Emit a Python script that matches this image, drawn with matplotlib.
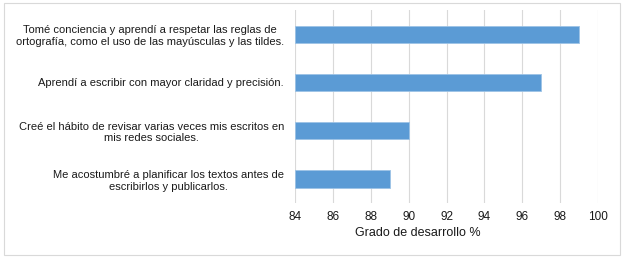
import matplotlib
matplotlib.use("Agg")
import matplotlib.pyplot as plt
from matplotlib.patches import Rectangle

plt.rcParams['font.family'] = ['Liberation Sans', 'DejaVu Sans']

categories = [
    "Tomé conciencia y aprendí a respetar las reglas de\nortografía, como el uso de las mayúsculas y las tildes.",
    "Aprendí a escribir con mayor claridad y precisión.",
    "Creé el hábito de revisar varias veces mis escritos en\nmis redes sociales.",
    "Me acostumbré a planificar los textos antes de\nescribirlos y publicarlos.",
]
values = [99, 97, 90, 89]
xticks = [84, 86, 88, 90, 92, 94, 96, 98, 100]

fig = plt.figure(figsize=(6.24, 2.59), dpi=100)
fig.patches.append(Rectangle((0.006, 0.015), 0.988, 0.975, transform=fig.transFigure,
                             fill=False, edgecolor='#d9d9d9', lw=0.8))
ax = fig.add_axes([0.4728, 0.216, 0.4856, 0.745])

pos = list(range(len(categories)))
ax.barh(pos, [v - 84 for v in values], left=84, height=0.36,
        color='#5b9bd5', edgecolor='#9dc3e6', lw=0.6, zorder=3)
ax.set_ylim(3.5, -0.5)
ax.set_xlim(84, 100)
ax.set_xticks(xticks)
ax.set_xticklabels([str(t) for t in xticks])
ax.set_yticks(pos)
ax.set_yticklabels(categories, multialignment='center')
ax.tick_params(axis='x', length=0, labelsize=8.5, colors='#1a1a1a', pad=6)
ax.tick_params(axis='y', length=0, labelsize=8, colors='#1a1a1a', pad=8)
ax.grid(axis='x', color='#d9d9d9', lw=0.8, zorder=0)
for s in ax.spines.values():
    s.set_visible(False)

# x label sits left of the axes centre in the original
fig.text(418 / 624, 1 - 233 / 259, "Grado de desarrollo %", fontsize=9,
         color='#1a1a1a', ha='center', va='center')

fig.savefig("out.png", dpi=100)
